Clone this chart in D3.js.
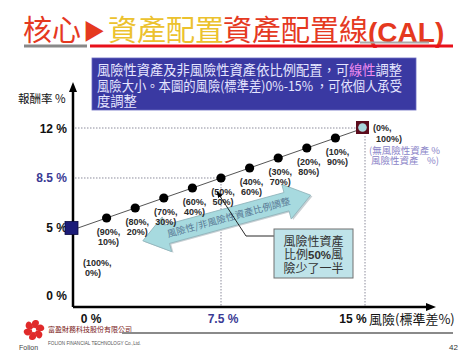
<!DOCTYPE html>
<html><head><meta charset="utf-8">
<script src="https://cdn.jsdelivr.net/npm/d3@7"></script>
<style>
html,body{margin:0;padding:0;background:#fff;}
svg{display:block;}
</style></head>
<body>
<script>
// ---- data ----
const riskyWeight = [0,10,20,30,40,50,60,70,80,90,100];
const riskSD      = [0,1.5,3,4.5,6,7.5,9,10.5,12,13.5,15];
const returnPct   = [5,5.7,6.4,7.1,7.8,8.5,9.2,9.9,10.6,11.3,12];
const yTickValues = [0,5,8.5,12];
const yTickLabels = ["0 %","5 %","8.5 %","12 %"];
const xTickValues = [0,7.5,15];
const xTickLabels = ["0 %","7.5 %","15 %"];
const arrowFrom = [3.4,4.1];
const arrowTo   = [12.2,7.3];
const calloutTarget = [7.25,8.5];

const W=474,H=355;
const CJK='"Noto Sans CJK TC","Noto Sans CJK SC",sans-serif';
const LAT='"Liberation Sans",Arial,sans-serif';
const svg=d3.select("body").append("svg").attr("width",W).attr("height",H);

const x=d3.scaleLinear().domain([0,15]).range([78,364]);
const y=d3.scaleLinear().domain([0,12]).range([299.4,128]);
const axX=73, axY=307;

// ---- title ----
const title=svg.append("text").attr("y",41).attr("font-family",CJK).attr("font-size",29);
title.append("tspan").attr("x",23).attr("fill","#e5391f").text("核心");
title.append("tspan").attr("x",83).attr("fill","#e5391f").attr("font-size",22).attr("dy",-2).text("▶");
title.append("tspan").attr("x",108).attr("dy",2).attr("fill","#ecc22e").text("資產配置");
title.append("tspan").attr("x",223).attr("fill","#e5391f").text("資產配置線");
title.append("tspan").attr("fill","#e5391f").attr("font-family",LAT).attr("font-weight","bold").attr("font-size",28).attr("dy",1).text("(CAL)");
svg.append("rect").attr("x",360).attr("y",41.5).attr("width",69).attr("height",2).attr("fill","#aaa");
svg.append("rect").attr("x",24).attr("y",44.5).attr("width",63).attr("height",3).attr("fill","#888");
svg.append("rect").attr("x",90).attr("y",44.5).attr("width",363).attr("height",3).attr("fill","#e8101a");

// ---- info box ----
svg.append("rect").attr("x",92).attr("y",58).attr("width",324).attr("height",52)
  .attr("fill","#3a39a2").attr("stroke","#6a6ac0").attr("stroke-width",0.8);
const info=svg.append("g").attr("font-family",CJK).attr("font-size",13.3).attr("fill","#e6e6ff");
const l1=info.append("text").attr("x",97).attr("y",75).attr("textLength",305).attr("lengthAdjust","spacingAndGlyphs");
l1.append("tspan").text("風險性資產及非風險性資產依比例配置，可");
l1.append("tspan").attr("fill","#f08af0").text("線性");
l1.append("tspan").text("調整");
info.append("text").attr("x",97).attr("y",90.5).attr("textLength",305).attr("lengthAdjust","spacingAndGlyphs")
  .text("風險大小。本圖的風險(標準差)0%-15% ，可依個人承受");
info.append("text").attr("x",97).attr("y",106).text("度調整");

// ---- gridlines (dotted) ----
const dot={stroke:"#8c8c9c","stroke-width":1,"stroke-dasharray":"1.5,1.5"};
function dl(x1,y1,x2,y2){const l=svg.append("line").attr("x1",x1).attr("y1",y1).attr("x2",x2).attr("y2",y2);for(const k in dot)l.attr(k,dot[k]);}
dl(axX+2,y(12),x(15)-7,y(12));
dl(axX+2,y(8.5),x(7.5),y(8.5));
dl(x(7.5),y(8.5),x(7.5),axY);
dl(x(15)+1,y(12)+8,x(15)+1,axY);

// ---- axes ----
svg.append("line").attr("x1",axX).attr("y1",axY).attr("x2",axX).attr("y2",90).attr("stroke","#000").attr("stroke-width",2.5);
svg.append("path").attr("d",`M${axX},82 L${axX-4},92 L${axX+4},92 Z`).attr("fill","#000");
svg.append("line").attr("x1",axX).attr("y1",axY).attr("x2",428).attr("y2",axY).attr("stroke","#000").attr("stroke-width",2.5);
svg.append("path").attr("d",`M436,${axY} L426,${axY-4} L426,${axY+4} Z`).attr("fill","#000");

// y ticks
svg.append("g").selectAll("text").data(yTickValues).join("text")
  .attr("x",67).attr("y",(d,i)=>y(d)+4.5+(d===0?-4:0))
  .attr("text-anchor","end").attr("font-family",LAT).attr("font-weight","bold").attr("font-size",12)
  .attr("fill",d=>d===8.5?"#3a3a94":"#111").text((d,i)=>yTickLabels[i]);
svg.append("text").attr("x",18).attr("y",103).attr("font-family",CJK).attr("font-size",11.5).attr("fill","#111").text("報酬率 %");

// x ticks
svg.append("g").selectAll("text").data(xTickValues).join("text")
  .attr("x",(d,i)=>x(d)+(i===0?13:i===2?-11:2)).attr("y",323)
  .attr("text-anchor","middle").attr("font-family",LAT).attr("font-weight","bold").attr("font-size",12)
  .attr("fill",d=>d===7.5?"#3a3a94":"#111").text((d,i)=>xTickLabels[i]);
svg.append("text").attr("x",369).attr("y",323.5).attr("font-family",CJK).attr("font-size",13).attr("fill","#111").text("風險(標準差%)");

// ---- CAL line ----
svg.append("line").attr("x1",x(riskSD[0])).attr("y1",y(returnPct[0]))
  .attr("x2",x(riskSD[10])).attr("y2",y(returnPct[10])).attr("stroke","#555").attr("stroke-width",1);

// ---- big double arrow ----
{
  const x1=x(arrowFrom[0]),y1=y(arrowFrom[1]),x2=x(arrowTo[0]),y2=y(arrowTo[1]);
  const cx=(x1+x2)/2,cy=(y1+y2)/2,ang=Math.atan2(y2-y1,x2-x1)*180/Math.PI,L=Math.hypot(x2-x1,y2-y1)/2;
  const hl=25,hw=18,sw=9.5;
  const pts=[[-L,0],[-L+hl,-hw],[-L+hl,-sw],[L-hl,-sw],[L-hl,-hw],[L,0],[L-hl,hw],[L-hl,sw],[-L+hl,sw],[-L+hl,hw]];
  const g=svg.append("g").attr("transform",`translate(${cx},${cy}) rotate(${ang})`);
  g.append("polygon").attr("points",pts.map(p=>[p[0]+1.5,p[1]+1.5].join(",")).join(" ")).attr("fill","#c8d0d4");
  g.append("polygon").attr("points",pts.map(p=>p.join(",")).join(" ")).attr("fill","#a7dadf").attr("stroke","#8fb4ba").attr("stroke-width",0.8);
  g.append("text").attr("x",2).attr("y",3.5).attr("text-anchor","middle").attr("font-family",CJK).attr("font-size",9.5)
   .attr("fill","#5a7a96").text("風險性/非風險性資產比例調整");
}

// ---- points ----
svg.append("g").selectAll("circle").data(riskSD.slice(1,10)).join("circle")
  .attr("cx",d=>x(d)).attr("cy",(d,i)=>y(returnPct[i+1])).attr("r",4.6).attr("fill","#000");

// start square
svg.append("rect").attr("x",x(riskSD[0])-13).attr("y",y(returnPct[0])-6.5).attr("width",13).attr("height",13)
  .attr("fill","#1c1c78").attr("stroke","#0a0a40").attr("stroke-width",0.8);
// end square
svg.append("rect").attr("x",x(riskSD[10])-8).attr("y",y(returnPct[10])-7).attr("width",13).attr("height",13).attr("fill","#5c0c1c");
svg.append("circle").attr("cx",x(riskSD[10])-1.5).attr("cy",y(returnPct[10])-0.5).attr("r",4.3).attr("fill","#a9d6dc");

// point labels
const lab=svg.append("g").attr("font-family",LAT).attr("font-weight","bold").attr("font-size",9).attr("fill","#2a2a2a");
riskyWeight.forEach((w,i)=>{
  if(i===0||i===10)return;
  const px=x(riskSD[i])+2, py=y(returnPct[i]);
  lab.append("text").attr("x",px).attr("y",py+17).attr("text-anchor","middle").text(`(${100-w}%,`);
  lab.append("text").attr("x",px).attr("y",py+27).attr("text-anchor","middle").text(`${w}%)`);
});
{
  const px=x(riskSD[0]), py=y(returnPct[0]);
  lab.append("text").attr("x",px+5).attr("y",py+38).text(`(${100-riskyWeight[0]}%,`);
  lab.append("text").attr("x",px+7).attr("y",py+48).text(`${riskyWeight[0]}%)`);
  const qx=x(riskSD[10]), qy=y(returnPct[10]);
  lab.append("text").attr("x",qx+9).attr("y",qy+3).text(`(${100-riskyWeight[10]}%,`);
  lab.append("text").attr("x",qx+12).attr("y",qy+14).text(`${riskyWeight[10]}%)`);
  const pl=svg.append("g").attr("font-family",CJK).attr("font-size",9.5).attr("fill","#8a84c8");
  pl.append("text").attr("x",qx+5).attr("y",qy+25.5).attr("xml:space","preserve").text("(無風險性資產 %");
  pl.append("text").attr("x",qx+7).attr("y",qy+35.5).attr("xml:space","preserve").text("風險性資產    %)");
}

// ---- callout ----
svg.append("defs").append("marker").attr("id","ah").attr("viewBox","0 0 10 10").attr("refX",9).attr("refY",5)
  .attr("markerWidth",7).attr("markerHeight",7).attr("orient","auto")
  .append("path").attr("d","M0,1 L10,5 L0,9 Z").attr("fill","#000");
svg.append("polyline").attr("points",`274,236 246,236 ${x(calloutTarget[0])+1},${y(calloutTarget[1])+14}`)
  .attr("fill","none").attr("stroke","#111").attr("stroke-width",0.9).attr("marker-end","url(#ah)");
svg.append("rect").attr("x",274).attr("y",229).attr("width",79).attr("height",49)
  .attr("fill","#bfe3e9").attr("stroke","#707070").attr("stroke-width",1);
const cb=svg.append("g").attr("font-family",CJK).attr("font-size",12).attr("fill","#333").attr("text-anchor","middle");
cb.append("text").attr("x",313.5).attr("y",245.5).text("風險性資產");
const c2=cb.append("text").attr("x",313.5).attr("y",259);
c2.append("tspan").text("比例");
c2.append("tspan").attr("font-family",LAT).attr("font-weight","bold").attr("font-size",11.5).text("50%");
c2.append("tspan").text("風");
cb.append("text").attr("x",313.5).attr("y",272.5).text("險少了一半");

// ---- footer ----
const logo=svg.append("g").attr("transform","translate(34,330)");
[0,60,120,180,240,300].forEach(a=>{
  logo.append("path").attr("d","M0,-1 C7,-5 6,-11 1,-10 C-3,-9 -3,-5 0,-1 Z").attr("fill","#e02a2a").attr("transform",`rotate(${a})`);
});
logo.append("circle").attr("r",2.2).attr("fill","#fff");
svg.append("text").attr("x",19).attr("y",350).attr("font-family",LAT).attr("font-size",7).attr("fill","#444").text("Folion");
svg.append("text").attr("x",48).attr("y",332).attr("font-family",CJK).attr("font-size",7).attr("fill","#7a2020").text("富盈財務科技股份有限公司");
svg.append("text").attr("x",48).attr("y",345).attr("font-family",LAT).attr("font-size",4.6).attr("fill","#555").text("FOLION FINANCIAL TECHNOLOGY Co.,Ltd.");
svg.append("rect").attr("x",122).attr("y",332).attr("width",331).attr("height",2).attr("fill","#8a8a8a");
svg.append("text").attr("x",449).attr("y",350).attr("font-family",LAT).attr("font-size",8).attr("fill","#333").text("42");
</script>
</body></html>
